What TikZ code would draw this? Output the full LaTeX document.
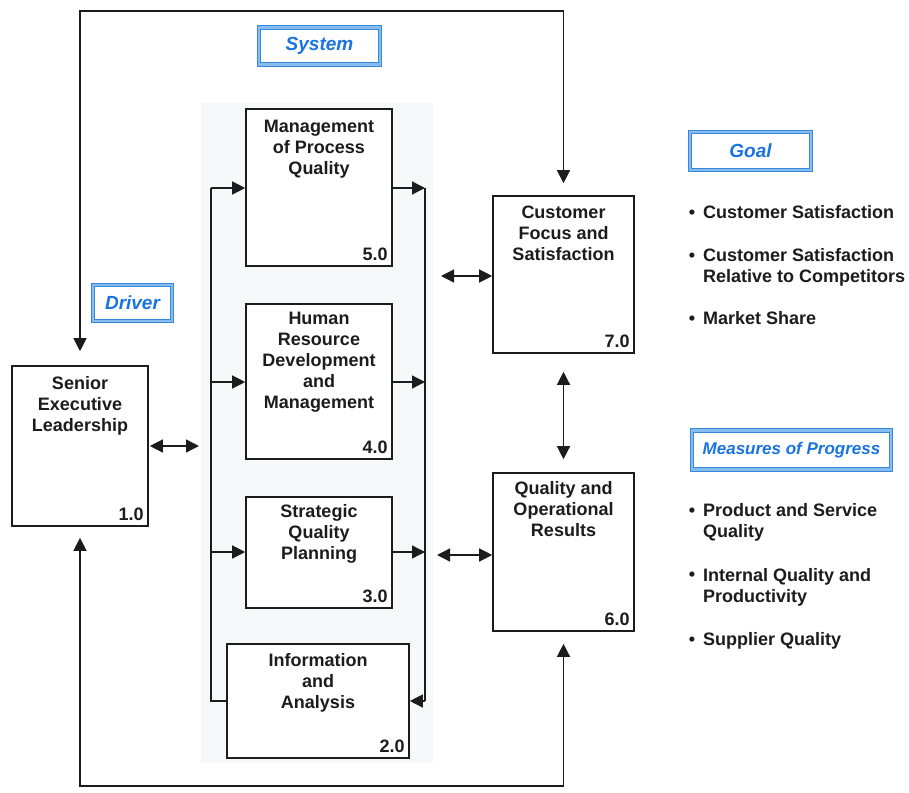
\documentclass[tikz,border=0pt]{standalone}
\usepackage{fontspec}
\setmainfont{Liberation Sans}
\usetikzlibrary{arrows.meta}
\definecolor{ink}{RGB}{28,28,28}
\definecolor{lbdark}{RGB}{55,135,220}
\definecolor{lblight}{RGB}{135,188,240}
\definecolor{lbtext}{RGB}{25,115,225}
\definecolor{panel}{RGB}{246,248,249}
\begin{document}
\begin{tikzpicture}[x=1pt,y=-1pt,
  box/.style={draw=ink, line width=1.6pt, fill=white, inner sep=0pt},
  ttl/.style={inner sep=0pt, align=center, text=ink, font=\fontsize{18}{21}\selectfont\bfseries},
  num/.style={inner sep=0pt, text=ink, font=\fontsize{18}{21}\selectfont\bfseries},
  ln/.style={draw=ink, line width=1.3pt},
  arr/.style={ln, -{Triangle[length=13pt,width=13pt]}},
  dbl/.style={ln, {Triangle[length=13pt,width=13pt]}-{Triangle[length=13pt,width=13pt]}},
  lbl/.style={draw=lbdark, double=lblight, double distance=2.6pt, line width=0.8pt, fill=white, text=lbtext, inner sep=0pt, font=\fontsize{19}{21}\selectfont\bfseries\itshape},
  bul/.style={inner sep=0pt, text=ink, font=\fontsize{18}{21}\selectfont\bfseries, align=left}
]
\fill[white] (0,0) rectangle (909,792);
\useasboundingbox (0,0) rectangle (909,792);
\fill[panel] (201,103) rectangle (433,763);

% main boxes
\node[box, minimum width=136pt, minimum height=160pt] (b1) at (80,446) {};
\node[box, minimum width=146pt, minimum height=157pt] (b5) at (319,187.5) {};
\node[box, minimum width=146pt, minimum height=155pt] (b4) at (319,381.5) {};
\node[box, minimum width=146pt, minimum height=111pt] (b3) at (319,552.5) {};
\node[box, minimum width=182pt, minimum height=114pt] (b2) at (318,701) {};
\node[box, minimum width=141pt, minimum height=157pt] (b7) at (563.5,274.5) {};
\node[box, minimum width=141pt, minimum height=158pt] (b6) at (563.5,552) {};

% titles
\node[ttl, anchor=north] (t1) at ([yshift=-11.5pt]b1.north) {Senior\\Executive\\Leadership};
\node[ttl, anchor=north] (t5) at ([yshift=-11.5pt]b5.north) {Management\\of Process\\Quality};
\node[ttl, anchor=north] (t4) at ([yshift=-9pt]b4.north) {Human\\Resource\\Development\\and\\Management};
\node[ttl, anchor=north] (t3) at ([yshift=-8.5pt]b3.north) {Strategic\\Quality\\Planning};
\node[ttl, anchor=north] (t2) at ([yshift=-10.5pt]b2.north) {Information\\and\\Analysis};
\node[ttl, anchor=north] (t7) at ([yshift=-11pt]b7.north) {Customer\\Focus and\\Satisfaction};
\node[ttl, anchor=north] (t6) at ([yshift=-9pt]b6.north) {Quality and\\Operational\\Results};

% numbers
\node[num, anchor=base east] (n1) at ([xshift=-5pt,yshift=6pt]b1.south east) {1.0};
\node[num, anchor=base east] (n5) at ([xshift=-5pt,yshift=6pt]b5.south east) {5.0};
\node[num, anchor=base east] (n4) at ([xshift=-5pt,yshift=6pt]b4.south east) {4.0};
\node[num, anchor=base east] (n3) at ([xshift=-5pt,yshift=6pt]b3.south east) {3.0};
\node[num, anchor=base east] (n2) at ([xshift=-5pt,yshift=6pt]b2.south east) {2.0};
\node[num, anchor=base east] (n7) at ([xshift=-5pt,yshift=6pt]b7.south east) {7.0};
\node[num, anchor=base east] (n6) at ([xshift=-5pt,yshift=6pt]b6.south east) {6.0};

% outer loops
\coordinate (top) at (0,11);
\coordinate (bot) at (0,786);
\draw[dbl] ([yshift=14pt]b1.north) -- (b1.north |- top) -- (b7.north |- top) -- ([yshift=12pt]b7.north);
\draw[dbl] ([yshift=-11pt]b1.south) -- (b1.south |- bot) -- (b6.south |- bot) -- ([yshift=-12pt]b6.south);

% left bus
\coordinate (L1) at (211,188);
\coordinate (L4) at (211,382);
\coordinate (L3) at (211,552);
\coordinate (L2) at (211,701);
\draw[ln] (L1) -- (L2) -- (L2 -| b2.west);
\draw[arr] (L1) -- (L1 -| b5.west);
\draw[arr] (L4) -- (L4 -| b4.west);
\draw[arr] (L3) -- (L3 -| b3.west);

% right bus
\coordinate (R1) at (425,188);
\coordinate (R4) at (425,382);
\coordinate (R3) at (425,552);
\coordinate (R2) at (425,701);
\draw[ln] (R1) -- (R2);
\draw[arr] (R1 -| b5.east) -- (R1);
\draw[arr] (R4 -| b4.east) -- (R4);
\draw[arr] (R3 -| b3.east) -- (R3);
\draw[arr] (R2) -- (R2 -| b2.east);

% double arrows
\coordinate (d1) at (199,446);
\coordinate (d7) at (441,276);
\coordinate (d6) at (437,555);
\draw[dbl] ([xshift=1pt]b1.east) -- (d1);
\draw[dbl] (d7) -- (d7 -| b7.west);
\draw[dbl] (d6) -- (d6 -| b6.west);
\draw[dbl] ([yshift=-18pt]b7.south) -- ([yshift=13pt]b6.north);

% label boxes
\node[lbl, minimum width=121pt, minimum height=37pt] (sys) at (319.5,46) {System};
\node[lbl, minimum width=79pt, minimum height=36pt] (drv) at (132.5,303) {Driver};
\node[lbl, minimum width=121pt, minimum height=38pt] (goal) at (750.5,151) {Goal};
\node[lbl, minimum width=199pt, minimum height=39pt, font=\fontsize{17}{21}\selectfont\bfseries\itshape] (mop) at (791.5,450) {Measures of Progress};

% goal list
\node[bul, anchor=base] (gb1) at (692,218.3) {•};
\node[bul, anchor=base west] (g1) at (703,218.3) {Customer Satisfaction};
\node[bul, anchor=base] (gb2) at (692,261.7) {•};
\node[bul, anchor=north west] (g2) at (703,248.6) {Customer Satisfaction\\Relative to Competitors};
\node[bul, anchor=base] (gb3) at (692,324) {•};
\node[bul, anchor=base west] (g3) at (703,324) {Market Share};

% measures list
\node[bul, anchor=base] (mb1) at (692,516.7) {•};
\node[bul, anchor=north west] (m1) at (703,503.6) {Product and Service\\Quality};
\node[bul, anchor=base] (mb2) at (692,580.7) {•};
\node[bul, anchor=north west] (m2) at (703,567.8) {Internal Quality and\\Productivity};
\node[bul, anchor=base] (mb3) at (692,645) {•};
\node[bul, anchor=base west] (m3) at (703,645) {Supplier Quality};
\end{tikzpicture}
\end{document}
